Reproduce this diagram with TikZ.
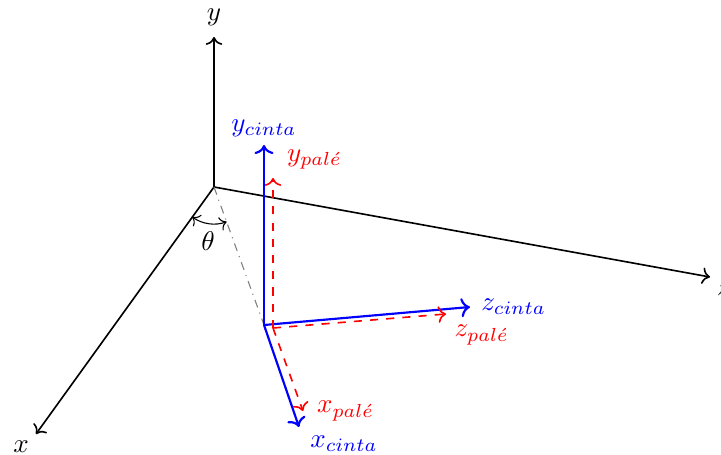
\documentclass[tikz,border=0pt]{standalone}
\usepackage{tikz}
\usetikzlibrary{arrows.meta,positioning,calc}
\usepackage{amsmath,amssymb}

\begin{document}
\begin{tikzpicture}[x=0.013cm, y=-0.013cm,
  axis/.style={->, semithick, black},
  cinta/.style={->, thick, blue},
  pale/.style={->, semithick, red, dashed},
  lbl/.style={inner sep=1pt}
]
  \useasboundingbox (0,0) rectangle (721,454);

  % Global frame
  \coordinate (O) at (214,187);
  \coordinate (Y) at (214,37);
  \coordinate (X) at (36,434);
  \coordinate (Z) at (710,277);
  \draw[axis] (O) -- (Y);
  \draw[axis] (O) -- (X);
  \draw[axis] (O) -- (Z);
  \node[lbl, above=3pt] (ylab) at (Y) {$y$};
  \node[lbl, below left=2pt] (xlab) at (X) {$x$};
  \node[lbl, below right=2pt] (zlab) at (Z) {$z$};

  % Conveyor frame
  \coordinate (Oc) at (264,325);
  \coordinate (Yc) at (264,145);
  \coordinate (Zc) at (470,307);
  \coordinate (Xc) at (299,427);
  \draw[gray, dash dot, thin] (O) -- (Oc);
  \draw[cinta] (Oc) -- (Yc);
  \draw[cinta] (Oc) -- (Zc);
  \draw[cinta] (Oc) -- (Xc);
  \node[lbl, blue, above=2pt] (yclab) at (Yc) {$y_{cinta}$};
  \node[lbl, blue, right=3pt] (zclab) at (Zc) {$z_{cinta}$};
  \node[lbl, blue, below right=2pt and 3pt] (xclab) at (Xc) {$x_{cinta}$};

  % Pallet frame
  \coordinate (Op) at (273,328);
  \coordinate (Yp) at (273,178);
  \coordinate (Zp) at (446,314);
  \coordinate (Xp) at (303,411);
  \draw[pale] (Op) -- (Yp);
  \draw[pale] (Op) -- (Zp);
  \draw[pale] (Op) -- (Xp);
  \node[lbl, red, above right=2pt and 4pt] (yplab) at (Yp) {$y_{pal\acute{e}}$};
  \node[lbl, red, below right=3pt and 2pt] (zplab) at (Zp) {$z_{pal\acute{e}}$};
  \node[lbl, red, right=4pt] (xplab) at (Xp) {$x_{pal\acute{e}}$};

  % Angle
  \draw[<->, thin] ($(O)+(126:37)$) arc[start angle=126, end angle=70, radius=37];
  \node[lbl] (theta) at (208,241) {$\theta$};
\end{tikzpicture}
\end{document}
